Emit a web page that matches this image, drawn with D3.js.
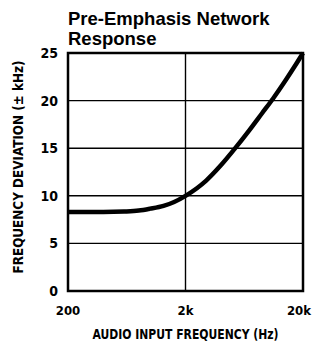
<!DOCTYPE html>
<html lang="en">
<head>
    <meta charset="UTF-8">
    <title>Pre-Emphasis Network Response</title>
    <style>
        body { margin: 0; background: #fff; }
        svg { display: block; }
        text { font-family: "Liberation Sans Narrow", "DejaVu Sans Condensed", "Liberation Sans", sans-serif; font-weight: bold; fill: #000; }
        .title { font-family: "Liberation Sans", Arial, sans-serif; font-size: 18.5px; }
    </style>
</head>
<body>
    <svg></svg>
    <script src="https://d3js.org/d3.v7.min.js"></script>
    <script>
        const width = 314;
        const height = 342;

        // curve (Hz, kHz deviation)
        const freqs = [200, 400, 600, 800, 1000, 1300, 1600, 2000, 2500, 3000, 4000, 5300, 7000, 9000, 11100, 14000, 17000, 20000];
        const deviation = [8.3, 8.3, 8.35, 8.45, 8.65, 8.95, 9.35, 10, 10.8, 11.6, 13.2, 15, 16.9, 18.7, 20.2, 22.0, 23.6, 25];

        const xTicks = [200, 2000, 20000];
        const xTickLabels = ["200", "2k", "20k"];
        const yTicks = [0, 5, 10, 15, 20, 25];

        const margin = { top: 53, right: 11, bottom: 51, left: 68 };

        const svg = d3.select("svg")
            .attr("width", width)
            .attr("height", height);

        const x = d3.scaleLog()
            .domain([200, 20000])
            .range([margin.left, width - margin.right]);

        const y = d3.scaleLinear()
            .domain([0, 25])
            .range([height - margin.bottom, margin.top]);

        // grid lines
        svg.append("g")
            .selectAll("line")
            .data(yTicks)
            .join("line")
            .attr("x1", x(200)).attr("x2", x(20000))
            .attr("y1", d => y(d)).attr("y2", d => y(d))
            .attr("stroke", "#000")
            .attr("stroke-width", 1.4);

        svg.append("g")
            .selectAll("line")
            .data(xTicks)
            .join("line")
            .attr("x1", d => x(d)).attr("x2", d => x(d))
            .attr("y1", y(0)).attr("y2", y(25))
            .attr("stroke", "#000")
            .attr("stroke-width", 1.4);

        // frame
        svg.append("rect")
            .attr("x", x(200))
            .attr("y", y(25))
            .attr("width", x(20000) - x(200))
            .attr("height", y(0) - y(25))
            .attr("fill", "none")
            .attr("stroke", "#000")
            .attr("stroke-width", 2.5);

        // y tick labels
        svg.append("g")
            .selectAll("text")
            .data(yTicks)
            .join("text")
            .attr("x", x(200) - 10)
            .attr("y", d => y(d) + 5)
            .attr("text-anchor", "end")
            .style("font-size", "14px")
            .text(d => d);

        // x tick labels, last one pulled in so it fits
        const last = xTicks.length - 1;
        svg.append("g")
            .selectAll("text")
            .data(xTicks)
            .join("text")
            .attr("x", (d, i) => i === last ? width - 3 : x(d))
            .attr("y", 315)
            .attr("text-anchor", (d, i) => i === last ? "end" : "middle")
            .style("font-size", "13px")
            .text((d, i) => xTickLabels[i]);

        // the curve
        const line = d3.line()
            .x(d => x(d[0]))
            .y(d => y(d[1]))
            .curve(d3.curveMonotoneX);

        svg.append("path")
            .datum(freqs.map((f, i) => [f, deviation[i]]))
            .attr("d", line)
            .attr("fill", "none")
            .attr("stroke", "#000")
            .attr("stroke-width", 4.5);

        // titles
        svg.append("text")
            .attr("class", "title")
            .attr("x", 68)
            .attr("y", 25)
            .text("Pre-Emphasis Network");

        svg.append("text")
            .attr("class", "title")
            .attr("x", 68)
            .attr("y", 45)
            .text("Response");

        svg.append("text")
            .attr("x", (x(200) + x(20000)) / 2)
            .attr("y", 339)
            .attr("text-anchor", "middle")
            .style("font-size", "14px")
            .attr("textLength", 186)
            .attr("lengthAdjust", "spacingAndGlyphs")
            .text("AUDIO INPUT FREQUENCY (Hz)");

        svg.append("text")
            .attr("transform", `translate(23, ${(y(0) + y(25)) / 2 - 5}) rotate(-90)`)
            .attr("text-anchor", "middle")
            .style("font-size", "14px")
            .attr("textLength", 213)
            .attr("lengthAdjust", "spacingAndGlyphs")
            .text("FREQUENCY DEVIATION (\u00B1 kHz)");
    </script>
</body>
</html>
